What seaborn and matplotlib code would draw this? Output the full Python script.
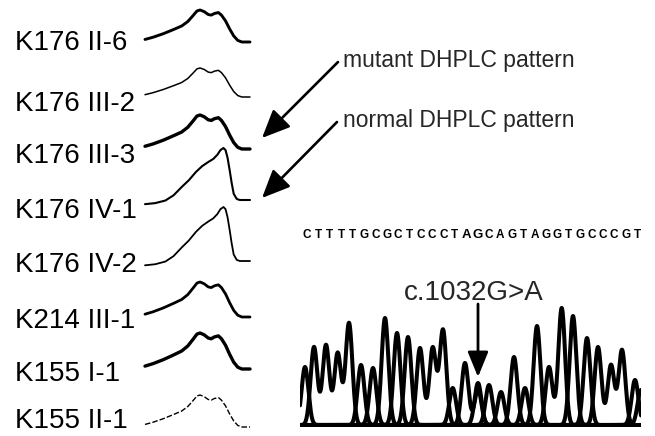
import numpy as np
import pandas as pd
import matplotlib
matplotlib.use("Agg")
import matplotlib.pyplot as plt
import seaborn as sns

# ---------------- data ----------------
samples = ["K176 II-6", "K176 III-2", "K176 III-3", "K176 IV-1",
           "K176 IV-2", "K214 III-1", "K155 I-1", "K155 II-1"]
patterns = ["mutant", "mutant", "mutant", "normal",
            "normal", "mutant", "mutant", "mutant"]

# DHPLC elution profiles (relative retention, relative signal %)
mut_time = [0, 8, 18, 28, 36, 42, 47, 51, 54, 58, 62, 65, 68, 72, 75, 79, 83, 87, 91, 95, 103]
mut_signal = [8, 15, 26, 39, 50, 64, 82, 97, 100, 95, 86, 84, 89, 92, 84, 66, 41, 19, 5, 0, 0]
norm_time = [0, 10, 20, 28, 36, 43, 50, 56, 62, 67, 71, 74, 77, 79, 81, 83, 85, 87, 90, 93, 103]
norm_signal = [-8, -6, -1, 9, 25, 38, 54, 65, 73, 79, 87, 96, 100, 96, 81, 58, 33, 12, 2, 0, 0]

# sequencing chromatogram: called bases, peak positions (scan) and heights
bases = ["C", "T", "T", "T", "T", "G", "C", "G", "C", "T", "C", "C", "C", "T", "A",
         "G", "C", "A", "G", "T", "A", "G", "G", "T", "G", "C", "C", "C", "G", "T"]
peak_pos = [305, 314, 326, 337.7, 349, 361, 373, 385, 397, 408, 420, 432.7, 443, 452.7, 465,
            478, 489, 501, 514, 525, 537, 549, 561.7, 573, 587, 598, 611, 622, 635, 641]
peak_height = [58, 78, 80, 72, 102, 60, 57, 107, 92, 88, 77, 77, 95, 37, 62,
               42, 40, 33, 68, 37, 99, 58, 117, 109, 87, 78, 60, 75, 45, 35]
het_pos = [478]
het_base = ["A"]
het_height = [36]

mutation_label = "c.1032G>A"
mutant_note = "mutant DHPLC pattern"
normal_note = "normal DHPLC pattern"

# ---------------- layout / style ----------------
W, H = 655, 436
label_baseline = [50, 111, 163, 218, 272, 328, 381, 428]
trace_end_y = [42, 97, 149, 200, 261, 317, 369, 427]
trace_amp = [32, 29, 34, 52, 54, 35, 36, 32]
trace_lw = [2.1, 1.1, 2.4, 1.5, 1.3, 2.0, 2.4, 1.0]
trace_ls = ["-", "-", "-", "-", "-", "-", "-", (0, (4, 1.5))]
trace_x0, trace_w = 145, 105
seq_x = np.linspace(307, 637, len(bases))  # text layout of the base-call row

sns.set_theme(style="white")
plt.rcParams["font.family"] = ["Liberation Sans", "DejaVu Sans"]

fig = plt.figure(figsize=(W / 100, H / 100), dpi=100)
fig.patch.set_facecolor("white")

ax0 = fig.add_axes([0, 0, 1, 1])
ax0.set_xlim(0, W)
ax0.set_ylim(H, 0)
ax0.axis("off")

profiles = {
    "mutant": pd.DataFrame({"time": mut_time, "signal": mut_signal}),
    "normal": pd.DataFrame({"time": norm_time, "signal": norm_signal}),
}

for name, pat, base_y, end_y, amp, lw, ls in zip(samples, patterns, label_baseline,
                                                  trace_end_y, trace_amp, trace_lw, trace_ls):
    ax0.text(15, base_y, name, fontsize=20, ha="left", va="baseline", color="black")
    ax = fig.add_axes([trace_x0 / W, 1 - end_y / H, trace_w / W, amp / H])
    sns.lineplot(data=profiles[pat], x="time", y="signal", ax=ax, color="black",
                 lw=lw, linestyle=ls, sort=False)
    for ln in ax.lines:
        ln.set_clip_on(False)
        ln.set_solid_joinstyle("round")
    ax.set_xlim(0, 103)
    ax.set_ylim(0, 100)
    ax.axis("off")

# annotations with arrows
head = "-|>,head_length=0.86,head_width=0.38"
ax0.annotate("", xy=(262, 138), xytext=(338, 62),
             arrowprops=dict(arrowstyle=head, color="black", lw=1.9, mutation_scale=20,
                             shrinkA=0, shrinkB=0))
ax0.annotate("", xy=(262, 198), xytext=(337, 122),
             arrowprops=dict(arrowstyle=head, color="black", lw=1.9, mutation_scale=20,
                             shrinkA=0, shrinkB=0))
ax0.text(343, 67, mutant_note, fontsize=16.5, ha="left", va="baseline")
ax0.text(343, 127, normal_note, fontsize=16.5, ha="left", va="baseline")

# chromatogram
axc = fig.add_axes([300 / W, 1 - 427 / H, 341 / W, 127 / H])
xs = np.linspace(300, 641, 1800)
sigma = 3.4
frames = []
for ch in ["A", "C", "G", "T"]:
    y = np.zeros_like(xs)
    for b, p, h in zip(bases, peak_pos, peak_height):
        if b == ch:
            y += h * np.exp(-(xs - p) ** 2 / (2 * sigma ** 2))
    for b, p, h in zip(het_base, het_pos, het_height):
        if b == ch:
            y += h * np.exp(-(xs - p) ** 2 / (2 * sigma ** 2))
    frames.append(pd.DataFrame({"scan": xs, "signal": y, "base": ch}))
chrom = pd.concat(frames, ignore_index=True)
sns.lineplot(data=chrom, x="scan", y="signal", units="base", estimator=None,
             color="black", lw=2.9, ax=axc, sort=False)
axc.axhline(0, xmin=5 / 341, xmax=1, color="black", lw=2.2)
axc.set_xlim(300, 641)
axc.set_ylim(-2, 125)
axc.axis("off")

# base calls above chromatogram
for i, (b, x) in enumerate(zip(bases, seq_x)):
    bold = i in (14, 15)
    ax0.text(x, 235, b, fontsize=9.5 if bold else 8.5, fontweight="bold", ha="center",
             va="center", color="black")

ax0.text(474, 300, mutation_label, fontsize=20, ha="center", va="baseline")
ax0.annotate("", xy=(478, 377), xytext=(478, 304),
             arrowprops=dict(arrowstyle="-|>,head_length=1.1,head_width=0.45",
                             color="black", lw=2.0, mutation_scale=14, shrinkA=0, shrinkB=0))

fig.savefig("out.png", dpi=100, facecolor="white")
